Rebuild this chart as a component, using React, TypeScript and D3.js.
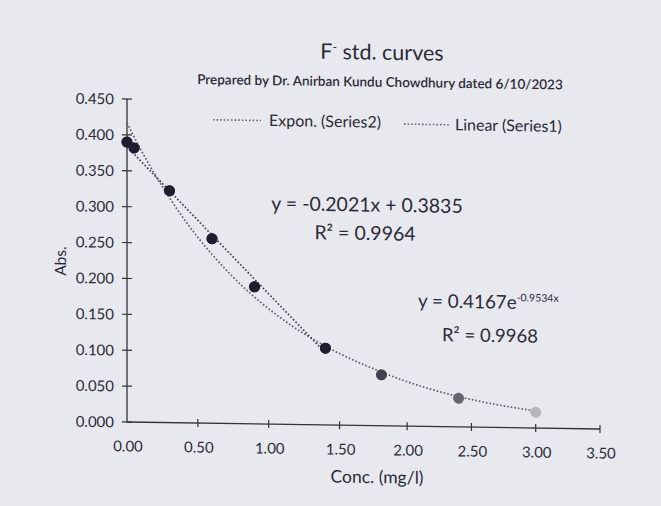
import * as d3 from "d3";

// Series1 (linear fit) and Series2 (exponential fit)
const concS1 = [0, 0.05, 0.3, 0.6, 0.9, 1.4];
const absS1 = [0.39, 0.382, 0.323, 0.257, 0.191, 0.107];
const concS2 = [0, 0.05, 0.3, 0.6, 0.9, 1.4, 1.8, 2.4, 3.0];
const absS2 = [0.39, 0.382, 0.323, 0.257, 0.191, 0.107, 0.071, 0.04, 0.022];

// trendline coefficients as printed on the chart
const linSlope = -0.2021;
const linIntercept = 0.3835;
const expA = 0.4167;
const expB = -0.9534;

const xTicks = [0, 0.5, 1, 1.5, 2, 2.5, 3, 3.5];
const yTicks = [0, 0.05, 0.1, 0.15, 0.2, 0.25, 0.3, 0.35, 0.4, 0.45];

const W = 661;
const H = 506;
const FONT = "Lato, 'Open Sans', sans-serif";
const INK = "#2b2b36";

// photo is slightly tilted
const skewDeg = 0.85;
const k = Math.tan((skewDeg * Math.PI) / 180);

export default function App() {
  // mild perspective of the photo on the x axis
  const x = d3.scaleLinear().domain([0, 1.75, 3.5]).range([127, 375, 600]);
  const y = d3.scaleLinear().domain([0, 0.45]).range([422, 99]);

  const linLine = d3
    .line<number>()
    .x((d) => x(d))
    .y((d) => y(linSlope * d + linIntercept));
  const expLine = d3
    .line<number>()
    .x((d) => x(d))
    .y((d) => y(expA * Math.exp(expB * d)))
    .curve(d3.curveMonotoneX);

  const linXs = d3.range(0, d3.max(concS1)! + 0.001, 0.05);
  const expXs = d3.range(0, d3.max(concS2)! + 0.001, 0.05);

  const fade = d3
    .scaleLinear<string>()
    .domain([1.4, 2.4, 3.0])
    .range(["#26263a", "#66666f", "#b4b4ba"])
    .clamp(true);

  const dotted = "1.6 2";

  return (
    <svg
      width={W}
      height={H}
      style={{ position: "absolute", left: 0, top: 0, background: "#e8e8ef" }}
      fontFamily={FONT}
    >
      <rect width={W} height={H} fill="#e8e8ef" />
      <g transform={`translate(0, ${-127 * k}) skewY(${skewDeg})`} fill={INK}>
        {/* titles */}
        <text x={382} y={56} textAnchor="middle" fontSize={21.5}>
          F<tspan dy={-8} fontSize={12}>-</tspan>
          <tspan dy={8}> std. curves</tspan>
        </text>
        <text x={380} y={83} textAnchor="middle" fontSize={13.5} fontWeight={600}>
          Prepared by Dr. Anirban Kundu Chowdhury dated 6/10/2023
        </text>

        {/* legend */}
        <line x1={213} x2={261} y1={118.5} y2={118.5} stroke="#6a6a78" strokeWidth={1.6} strokeDasharray={dotted} />
        <text x={269} y={124} fontSize={16}>Expon. (Series2)</text>
        <line x1={404} x2={450} y1={120} y2={120} stroke="#6a6a78" strokeWidth={1.6} strokeDasharray={dotted} />
        <text x={455} y={125.5} fontSize={16}>Linear (Series1)</text>

        {/* axes */}
        <line x1={x(0)} x2={x(0)} y1={y(0)} y2={y(0.45)} stroke="#333" strokeWidth={1.3} />
        <line x1={x(0)} x2={x(3.5)} y1={y(0)} y2={y(0)} stroke="#333" strokeWidth={1.3} />
        {yTicks.map((t) => (
          <g key={`y${t}`}>
            <line x1={x(0) - 5} x2={x(0) + 5} y1={y(t)} y2={y(t)} stroke="#333" strokeWidth={1.2} />
            <text x={114} y={y(t) + 5.5} textAnchor="end" fontSize={15}>
              {d3.format(".3f")(t)}
            </text>
          </g>
        ))}
        {xTicks.map((t) => (
          <g key={`x${t}`}>
            {t > 0 && (
              <line x1={x(t)} x2={x(t)} y1={y(0) - 4} y2={y(0) + 4} stroke="#333" strokeWidth={1.2} />
            )}
            <text x={x(t) + 1} y={y(0) + 29.5} textAnchor="middle" fontSize={15}>
              {d3.format(".2f")(t)}
            </text>
          </g>
        ))}
        <text
          transform={`translate(66, 262) rotate(-90)`}
          textAnchor="middle"
          fontSize={15.5}
        >
          Abs.
        </text>
        <text x={377} y={479.5} textAnchor="middle" fontSize={17.5}>
          Conc. (mg/l)
        </text>

        {/* trendlines */}
        <path d={expLine(expXs)!} fill="none" stroke="#5c5c6c" strokeWidth={1.7} strokeDasharray={dotted} />
        <path d={linLine(linXs)!} fill="none" stroke="#3c3c4c" strokeWidth={1.7} strokeDasharray={dotted} />

        {/* markers */}
        {concS2.map((c, i) => (
          <circle key={`s2${i}`} cx={x(c)} cy={y(absS2[i])} r={5.5} fill={fade(c)} />
        ))}
        {concS1.map((c, i) => (
          <circle key={`s1${i}`} cx={x(c)} cy={y(absS1[i])} r={5.5} fill="#1e1e30" />
        ))}

        {/* equations */}
        <text x={367} y={208} textAnchor="middle" fontSize={19.5}>
          y = -0.2021x + 0.3835
        </text>
        <text x={365} y={236.5} textAnchor="middle" fontSize={19.5}>
          R² = 0.9964
        </text>
        <text x={418} y={303} fontSize={18.8}>
          y = 0.4167e<tspan dy={-7.5} fontSize={10.5}>-0.9534x</tspan>
        </text>
        <text x={490} y={336.5} textAnchor="middle" fontSize={18.5}>
          R² = 0.9968
        </text>
      </g>
    </svg>
  );
}
